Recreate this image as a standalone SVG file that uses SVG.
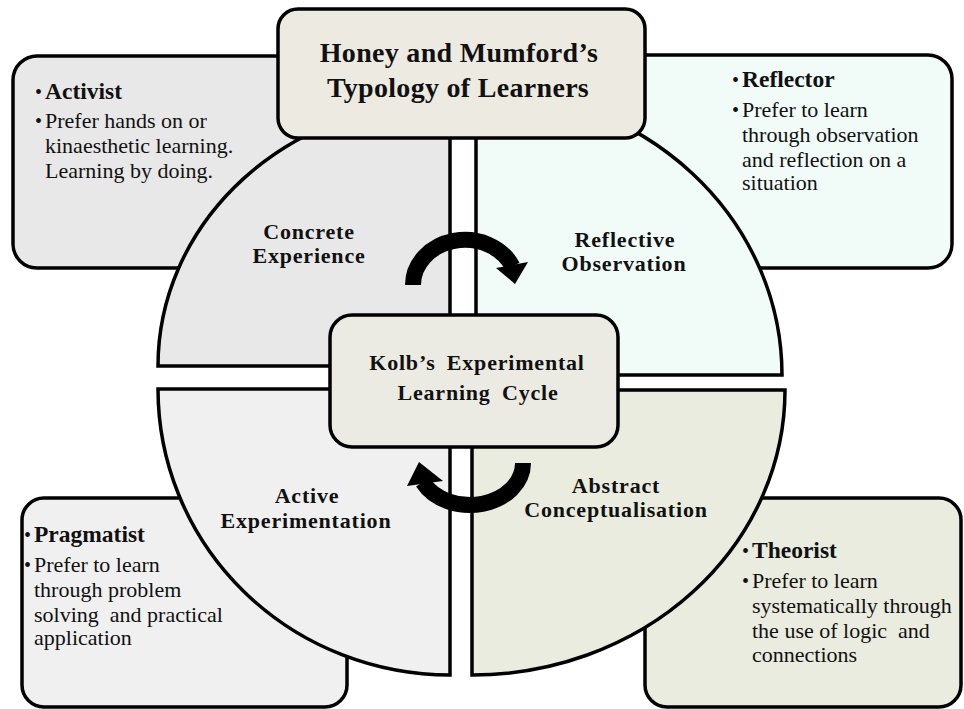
<svg xmlns="http://www.w3.org/2000/svg" width="964" height="709" viewBox="0 0 964 709">
  <style>
    text { font-family: "Liberation Serif", "Times New Roman", serif; fill: #111; }
    .box { stroke: #000; stroke-width: 3.5; }
    .quad { stroke: #000; stroke-width: 3.5; stroke-linejoin: miter; }
    .title { font-size: 28px; font-weight: bold; text-anchor: middle; letter-spacing: 0.3px; }
    .ql { font-size: 22px; font-weight: bold; text-anchor: middle; letter-spacing: 0.8px; }
    .kolb { font-size: 22px; font-weight: bold; text-anchor: middle; letter-spacing: 0.8px; word-spacing: 5px; }
    .hd { font-size: 23.5px; font-weight: bold; }
    .bd { font-size: 22px; }
    .bu { font-size: 20px; }
    .band { fill: none; stroke: #000; stroke-width: 16; stroke-linecap: butt; }
  </style>

  <rect width="964" height="709" fill="#fff"/>

  <!-- learner-type boxes (sit behind the cycle quadrants) -->
  <g id="activist">
    <rect class="box" x="13" y="56" width="400" height="212" rx="24" fill="#e8e8e8"/>
  </g>
  <g id="reflector">
    <rect class="box" x="540" y="55" width="412" height="213" rx="24" fill="#f1fcf9"/>
  </g>
  <g id="pragmatist">
    <rect class="box" x="22" y="498" width="325" height="209" rx="22" fill="#f0f0f0"/>
  </g>
  <g id="theorist">
    <rect class="box" x="645" y="498" width="316" height="209" rx="22" fill="#eaecdf"/>
  </g>

  <!-- cycle quadrants -->
  <g id="concrete-experience">
    <path class="quad" d="M450 366 L158 366 A292 265 0 0 1 450 101 Z" fill="#e8e8e8"/>
  </g>
  <g id="reflective-observation">
    <path class="quad" d="M476 375 L782 375 A306 285 0 0 0 476 90 Z" fill="#f1fcf9"/>
  </g>
  <g id="active-experimentation">
    <path class="quad" d="M450 389 L158 389 A292 286 0 0 0 450 675 Z" fill="#f0f0f0"/>
  </g>
  <g id="abstract-conceptualisation">
    <path class="quad" d="M472 390 L785 390 A313 285 0 0 1 472 675 Z" fill="#eaecdf"/>
  </g>

  <!-- title and centre boxes -->
  <g id="typology">
    <rect class="box" x="278" y="9" width="367" height="129" rx="20" fill="#edeae2"/>
    <text class="title" x="459" y="62">Honey and Mumford’s</text>
    <text class="title" x="458" y="97">Typology of Learners</text>
  </g>
  <g id="kolb">
    <rect class="box" x="330" y="315" width="288" height="132" rx="22" fill="#ecebe3"/>
    <text class="kolb" x="477" y="370">Kolb’s Experimental</text>
    <text class="kolb" x="478" y="400">Learning Cycle</text>
  </g>

  <!-- cycle arrows -->
  <g id="connectors">
    <path class="band" d="M413 285 A52 45 0 0 1 512.4 266.4"/>
    <polygon points="496,268 528,262 515,284" fill="#000"/>
    <path class="band" d="M523 463 A53 42 0 0 1 422.8 482.1"/>
    <polygon points="407,486 443,481 419,462" fill="#000"/>
  </g>

  <!-- quadrant labels -->
  <text class="ql" x="309" y="239">Concrete</text>
  <text class="ql" x="309" y="263">Experience</text>
  <text class="ql" x="625" y="247">Reflective</text>
  <text class="ql" x="624" y="271">Observation</text>
  <text class="ql" x="307" y="503">Active</text>
  <text class="ql" x="306" y="528">Experimentation</text>
  <text class="ql" x="616" y="493">Abstract</text>
  <text class="ql" x="616" y="517">Conceptualisation</text>

  <!-- learner-type descriptions -->
  <text class="bu" x="35" y="99">•</text>
  <text class="hd" x="45" y="99">Activist</text>
  <text class="bu" x="35" y="128">•</text>
  <text class="bd" x="45" y="128">Prefer hands on or</text>
  <text class="bd" x="45" y="153">kinaesthetic learning.</text>
  <text class="bd" x="45" y="178">Learning by doing.</text>

  <text class="bu" x="732" y="87">•</text>
  <text class="hd" x="742" y="87">Reflector</text>
  <text class="bu" x="732" y="117">•</text>
  <text class="bd" x="742" y="117">Prefer to learn</text>
  <text class="bd" x="742" y="142">through observation</text>
  <text class="bd" x="742" y="167">and reflection on a</text>
  <text class="bd" x="742" y="190">situation</text>

  <text class="bu" x="24" y="542">•</text>
  <text class="hd" x="34" y="542">Pragmatist</text>
  <text class="bu" x="24" y="572">•</text>
  <text class="bd" x="34" y="572">Prefer to learn</text>
  <text class="bd" x="34" y="597">through problem</text>
  <text class="bd" x="34" y="622" xml:space="preserve">solving  and practical</text>
  <text class="bd" x="34" y="645">application</text>

  <text class="bu" x="742" y="558">•</text>
  <text class="hd" x="752" y="558">Theorist</text>
  <text class="bu" x="742" y="588">•</text>
  <text class="bd" x="752" y="588">Prefer to learn</text>
  <text class="bd" x="752" y="613">systematically through</text>
  <text class="bd" x="752" y="638" xml:space="preserve">the use of logic  and</text>
  <text class="bd" x="752" y="662">connections</text>
</svg>
